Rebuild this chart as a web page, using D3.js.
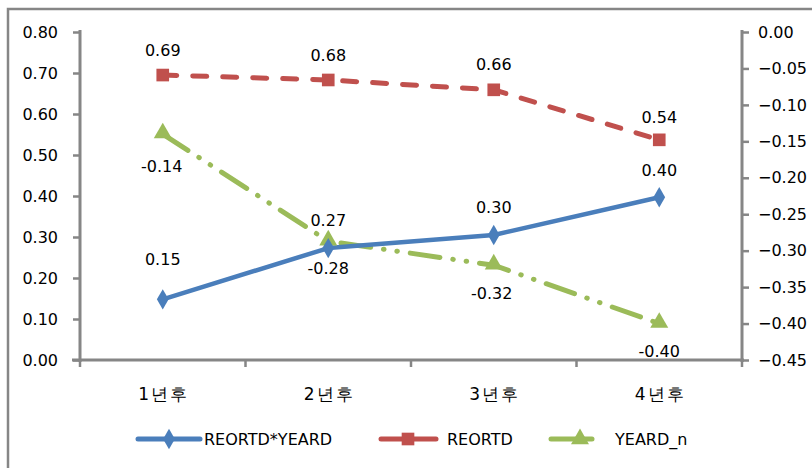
<!DOCTYPE html>
<html>
<head>
<meta charset="utf-8">
<script src="https://cdn.jsdelivr.net/npm/d3@7"></script>
<style>
  html, body { margin: 0; padding: 0; background: #fff; }
  svg { display: block; }
  text { font-family: "DejaVu Sans", sans-serif; fill: #000; }
</style>
</head>
<body>
<svg id="chart" width="812" height="468"></svg>
<script>
// ---- data ----
const categories = ["1년후", "2년후", "3년후", "4년후"];
const seriesNames = ["REORTD*YEARD", "REORTD", "YEARD_n"];
const interactionValues = [0.148, 0.273, 0.305, 0.397];   // left axis
const reortdValues = [0.695, 0.683, 0.659, 0.537];        // left axis
const yeardValues = [-0.14, -0.287, -0.32, -0.40];        // right axis
const interactionLabels = ["0.15", "0.27", "0.30", "0.40"];
const reortdLabels = ["0.69", "0.68", "0.66", "0.54"];
const yeardLabels = ["-0.14", "-0.28", "-0.32", "-0.40"];
const leftTicks = [0, 0.1, 0.2, 0.3, 0.4, 0.5, 0.6, 0.7, 0.8];
const rightTicks = [0, -0.05, -0.10, -0.15, -0.20, -0.25, -0.30, -0.35, -0.40, -0.45];

// ---- layout ----
const svg = d3.select("#chart");
const plot = { left: 80, right: 742, top: 32, bottom: 360 };
const axisColor = "#868686";
const colors = { blue: "#4A7EBB", red: "#C0504D", green: "#9BBB59" };

// outer chart border
svg.append("rect")
  .attr("x", 8).attr("y", 9).attr("width", 830).attr("height", 500)
  .attr("fill", "none").attr("stroke", axisColor).attr("stroke-width", 2.5);

const x = d3.scaleBand().domain(categories).range([plot.left, plot.right]).padding(0);
const yL = d3.scaleLinear().domain([0, 0.8]).range([plot.bottom, plot.top]);
const yR = d3.scaleLinear().domain([-0.45, 0]).range([plot.bottom, plot.top]);
const cx = c => x(c) + x.bandwidth() / 2;

// left axis
const gL = svg.append("g").attr("transform", `translate(${plot.left},0)`)
  .call(d3.axisLeft(yL).tickValues(leftTicks).tickFormat(d3.format(".2f")).tickSizeOuter(0).tickSize(7).tickPadding(15));
// right axis
const gR = svg.append("g").attr("transform", `translate(${plot.right},0)`)
  .call(d3.axisRight(yR).tickValues(rightTicks).tickFormat(d3.format(".2f")).tickSizeOuter(0).tickSize(7).tickPadding(9));
// bottom axis (domain only; category ticks at band boundaries drawn below)
const gB = svg.append("g").attr("transform", `translate(0,${plot.bottom})`)
  .call(d3.axisBottom(x).tickSize(0).tickPadding(0).tickFormat(""));

[gL, gR, gB].forEach(g => {
  g.select(".domain").attr("stroke", axisColor).attr("stroke-width", 3);
  g.selectAll(".tick line").attr("stroke", axisColor).attr("stroke-width", 2.5);
  g.selectAll(".tick text").attr("font-size", 16).attr("font-family", "DejaVu Sans").attr("fill", "#000");
});
gL.select(".domain").attr("d", `M0,${plot.top - 2}V${plot.bottom + 2}`);
gR.select(".domain").attr("d", `M0,${plot.top - 2}V${plot.bottom + 2}`);
gB.select(".domain").attr("d", `M${plot.left - 8},0H${plot.right + 2}`);

// category boundary ticks
const boundaries = categories.map(c => x(c)).concat([plot.right]);
svg.append("g").selectAll("line").data(boundaries).join("line")
  .attr("x1", d => d).attr("x2", d => d)
  .attr("y1", plot.bottom).attr("y2", plot.bottom + 7)
  .attr("stroke", axisColor).attr("stroke-width", 2.5);

// category labels
svg.append("g").selectAll("text").data(categories).join("text")
  .attr("x", d => cx(d) + 1).attr("y", 400)
  .attr("text-anchor", "middle").attr("font-size", 17)
  .attr("letter-spacing", 2)
  .attr("font-family", "'Noto Sans CJK KR', 'DejaVu Sans', sans-serif")
  .text(d => d);

// ---- series ----
const lineL = d3.line().x((d, i) => cx(categories[i])).y(d => yL(d));
const lineR = d3.line().x((d, i) => cx(categories[i])).y(d => yR(d));

const dashes = { red: "14,16", green: "30,13,0.5,13,0.5,13" };

// red
svg.append("path").datum(reortdValues).attr("d", lineL)
  .attr("fill", "none").attr("stroke", colors.red).attr("stroke-width", 5)
  .attr("stroke-dasharray", dashes.red).attr("stroke-linecap", "round");
// green
svg.append("path").datum(yeardValues).attr("d", lineR)
  .attr("fill", "none").attr("stroke", colors.green).attr("stroke-width", 5)
  .attr("stroke-dasharray", dashes.green).attr("stroke-linecap", "round");
// blue
svg.append("path").datum(interactionValues).attr("d", lineL)
  .attr("fill", "none").attr("stroke", colors.blue).attr("stroke-width", 4.5)
  .attr("stroke-linejoin", "round");

const diamond = d3.symbol().type(d3.symbolDiamond).size(120);
const square = d3.symbol().type(d3.symbolSquare).size(160);
const triangle = d3.symbol().type(d3.symbolTriangle).size(140);

svg.append("g").selectAll("path").data(reortdValues).join("path")
  .attr("d", square).attr("fill", colors.red)
  .attr("transform", (d, i) => `translate(${cx(categories[i])},${yL(d)})`);
svg.append("g").selectAll("path").data(yeardValues).join("path")
  .attr("d", triangle).attr("fill", colors.green)
  .attr("transform", (d, i) => `translate(${cx(categories[i])},${yR(d) - 1})`);
svg.append("g").selectAll("path").data(interactionValues).join("path")
  .attr("d", diamond).attr("fill", colors.blue)
  .attr("transform", (d, i) => `translate(${cx(categories[i])},${yL(d)})`);

// data labels (offsets are layout)
const blueDy = [-34, -22, -22, -21];
const redDy = [-19, -19, -20, -17];
const greenDy = [38, 33, 34, 33];
const greenDx = [-1, 0, -2, 0];
function labels(vals, labs, scale, dys, dxs) {
  svg.append("g").selectAll("text").data(vals).join("text")
    .attr("x", (d, i) => cx(categories[i]) + (dxs ? dxs[i] : 0))
    .attr("y", (d, i) => scale(d) + dys[i])
    .attr("text-anchor", "middle").attr("font-size", 16)
    .text((d, i) => labs[i]);
}
labels(reortdValues, reortdLabels, yL, redDy);
labels(interactionValues, interactionLabels, yL, blueDy);
labels(yeardValues, yeardLabels, yR, greenDy, greenDx);

// ---- legend ----
const legendY = 439;
const legendItems = [
  { name: seriesNames[0], color: colors.blue, sym: diamond, x1: 138, x2: 200, mx: 169, tx: 204 },
  { name: seriesNames[1], color: colors.red, sym: square, x1: 381, x2: 436, mx: 408, tx: 447 },
  { name: seriesNames[2], color: colors.green, sym: triangle, x1: 551, x2: 592, mx: 580, tx: 615 }
];
const lg = svg.append("g").selectAll("g").data(legendItems).join("g");
lg.append("line")
  .attr("x1", d => d.x1).attr("x2", d => d.x2).attr("y1", legendY).attr("y2", legendY)
  .attr("stroke", d => d.color).attr("stroke-width", 5).attr("stroke-linecap", "round");
lg.append("path").attr("d", d => d.sym()).attr("fill", d => d.color)
  .attr("transform", d => `translate(${d.mx},${legendY})`);
lg.append("text").attr("x", d => d.tx).attr("y", legendY + 6)
  .attr("font-size", 16).text(d => d.name);
</script>
</body>
</html>
